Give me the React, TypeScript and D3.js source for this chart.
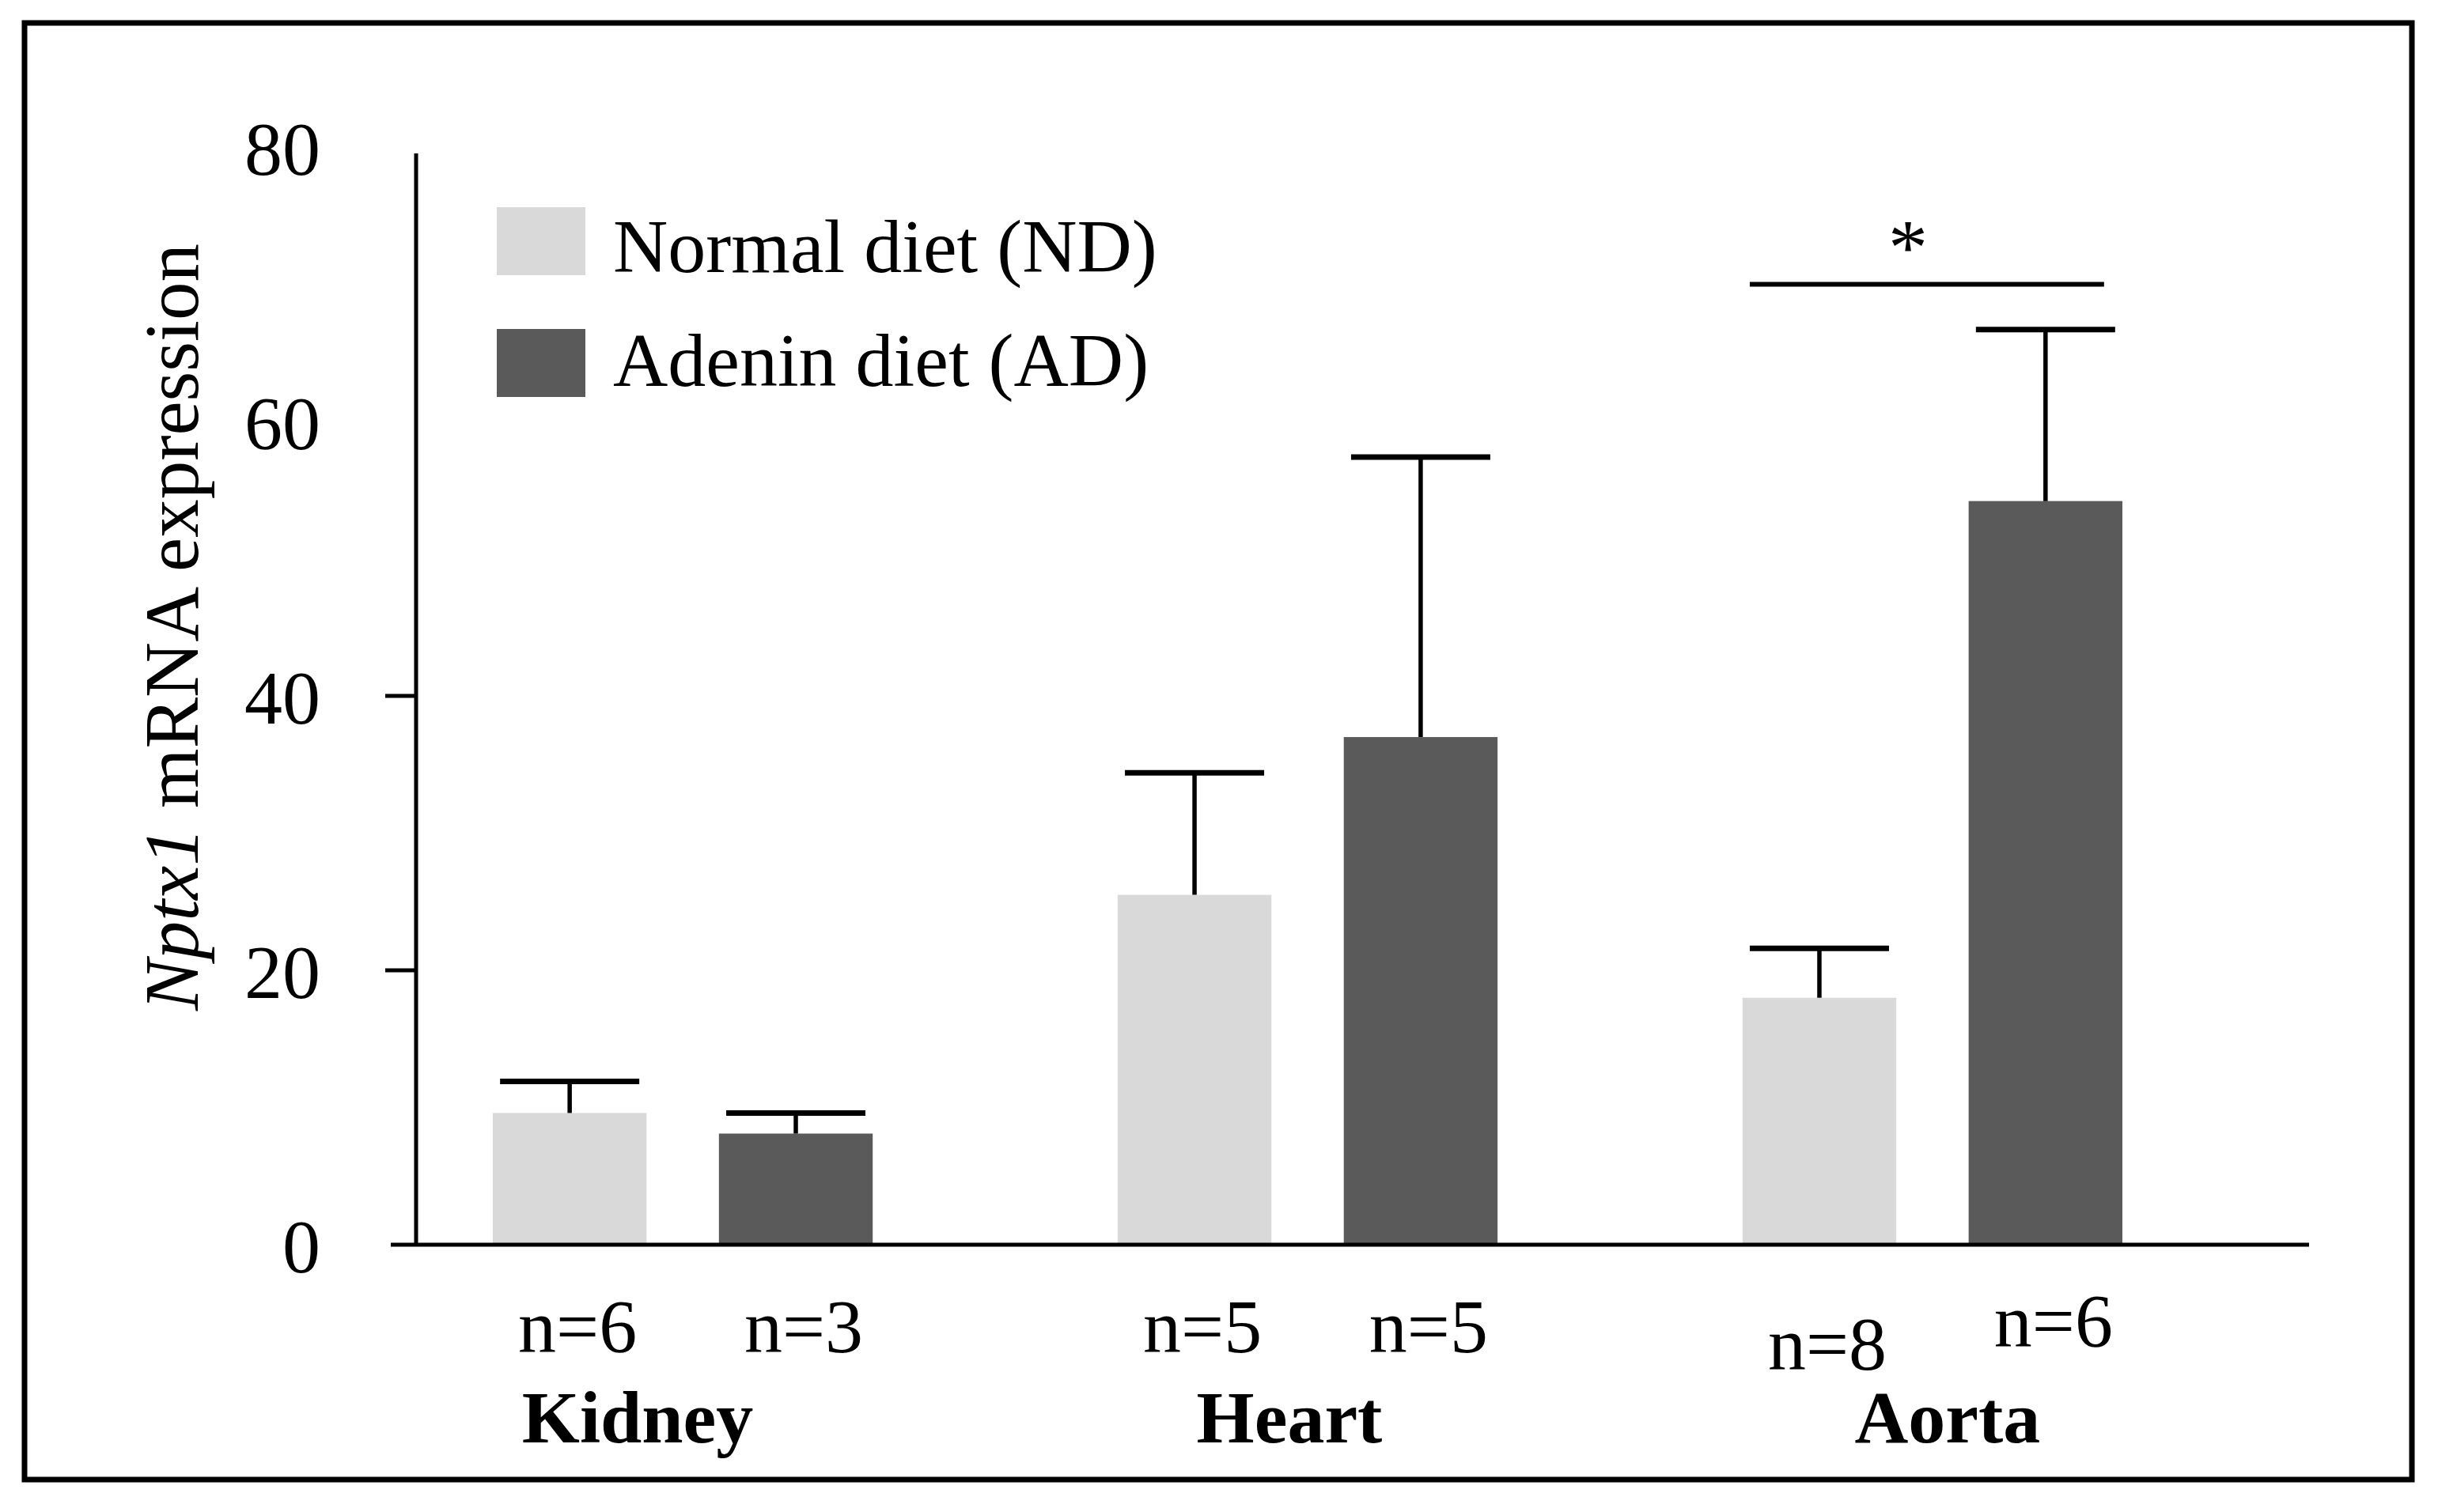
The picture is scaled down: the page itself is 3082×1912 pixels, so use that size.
import React, { useRef, useEffect } from 'react';
import * as d3 from 'd3';

// data
const categories = ['Kidney', 'Heart', 'Aorta'];
const seriesKeys = ['ND', 'AD'];
const legendLabels = ['Normal diet (ND)', 'Adenin diet (AD)'];
const ndMeans = [9.6, 25.5, 18.0];
const ndErrors = [2.3, 8.9, 3.6];
const adMeans = [8.1, 37.0, 54.2];
const adErrors = [1.5, 20.4, 12.5];
const ndCounts = ['n=6', 'n=5', 'n=8'];
const adCounts = ['n=3', 'n=5', 'n=6'];
const yTicks = [0, 20, 40, 60, 80];
const yTickMarks = [20, 40];
const significance = { category: 'Aorta', value: 70, label: '*' };

const W = 3082;
const H = 1912;
const FONT = '"Liberation Serif", "Times New Roman", Times, serif';
const COLORS: Record<string, string> = { ND: '#d9d9d9', AD: '#5a5a5a' };

const App: React.FC = () => {
  const svgRef = useRef<SVGSVGElement>(null);

  useEffect(() => {
    document.body.style.margin = '0';
    const svg = d3.select(svgRef.current);
    svg.selectAll('*').remove();

    svg.append('rect').attr('width', W).attr('height', H).attr('fill', '#fff');

    // frame
    svg.append('rect')
      .attr('x', 31).attr('y', 29)
      .attr('width', 3018).attr('height', 1842)
      .attr('fill', 'none').attr('stroke', '#000').attr('stroke-width', 7);

    const y = d3.scaleLinear().domain([0, 80]).range([1574, 186]);
    const xGroup = d3.scaleBand<string>()
      .domain(categories)
      .range([228, 3078])
      .paddingInner(0.392)
      .paddingOuter(0.5);
    const xSub = d3.scaleBand<string>()
      .domain(seriesKeys)
      .range([0, xGroup.bandwidth()])
      .paddingInner(0.32)
      .paddingOuter(0);

    const rows = categories.flatMap((c, i) => [
      { cat: c, key: 'ND', mean: ndMeans[i], err: ndErrors[i], n: ndCounts[i] },
      { cat: c, key: 'AD', mean: adMeans[i], err: adErrors[i], n: adCounts[i] },
    ]);
    const barX = (d: { cat: string; key: string }) => (xGroup(d.cat) ?? 0) + (xSub(d.key) ?? 0);
    const barC = (d: { cat: string; key: string }) => barX(d) + xSub.bandwidth() / 2;

    // bars
    svg.append('g').selectAll('rect')
      .data(rows)
      .enter()
      .append('rect')
      .attr('x', d => barX(d))
      .attr('y', d => y(d.mean))
      .attr('width', xSub.bandwidth())
      .attr('height', d => y(0) - y(d.mean))
      .attr('fill', d => COLORS[d.key]);

    // error bars (upper only)
    const eb = svg.append('g').attr('stroke', '#000');
    eb.selectAll('line.stem')
      .data(rows)
      .enter()
      .append('line')
      .attr('class', 'stem')
      .attr('x1', d => barC(d)).attr('x2', d => barC(d))
      .attr('y1', d => y(d.mean)).attr('y2', d => y(d.mean + d.err))
      .attr('stroke-width', 5.5);
    eb.selectAll('line.cap')
      .data(rows)
      .enter()
      .append('line')
      .attr('class', 'cap')
      .attr('x1', d => barC(d) - 88).attr('x2', d => barC(d) + 88)
      .attr('y1', d => y(d.mean + d.err)).attr('y2', d => y(d.mean + d.err))
      .attr('stroke-width', 7);

    // axes
    svg.append('line')
      .attr('x1', 526).attr('x2', 526)
      .attr('y1', y(80) + 8).attr('y2', y(0))
      .attr('stroke', '#000').attr('stroke-width', 5);
    svg.append('line')
      .attr('x1', 494).attr('x2', 2919)
      .attr('y1', y(0)).attr('y2', y(0))
      .attr('stroke', '#000').attr('stroke-width', 5);
    svg.append('g').selectAll('line')
      .data(yTickMarks)
      .enter()
      .append('line')
      .attr('x1', 487).attr('x2', 526)
      .attr('y1', d => y(d)).attr('y2', d => y(d))
      .attr('stroke', '#000').attr('stroke-width', 5);
    svg.append('g').selectAll('text')
      .data(yTicks)
      .enter()
      .append('text')
      .attr('x', 405)
      .attr('y', d => y(d))
      .attr('dy', '0.36em')
      .attr('text-anchor', 'end')
      .attr('font-family', FONT)
      .attr('font-size', 96)
      .text(d => d);

    // y label
    const yl = svg.append('text')
      .attr('transform', 'translate(250,793) rotate(-90)')
      .attr('text-anchor', 'middle')
      .attr('font-family', FONT)
      .attr('font-size', 97);
    yl.append('tspan').attr('font-style', 'italic').text('Nptx1');
    yl.append('tspan').text(' mRNA expression');

    // n labels
    const nDy: Record<string, number> = { 'Aorta-ND': 22, 'Aorta-AD': -7 };
    svg.append('g').selectAll('text')
      .data(rows)
      .enter()
      .append('text')
      .attr('x', d => barC(d) + 10)
      .attr('y', d => 1710 + (nDy[`${d.cat}-${d.key}`] ?? 0))
      .attr('text-anchor', 'middle')
      .attr('font-family', FONT)
      .attr('font-size', 96)
      .text(d => d.n);

    // category labels
    const catDx: Record<string, number> = { Kidney: -57, Heart: -23, Aorta: 19 };
    svg.append('g').selectAll('text')
      .data(categories)
      .enter()
      .append('text')
      .attr('x', d => (xGroup(d) ?? 0) + xGroup.bandwidth() / 2 + (catDx[d] ?? 0))
      .attr('y', 1824)
      .attr('text-anchor', 'middle')
      .attr('font-family', FONT)
      .attr('font-weight', 'bold')
      .attr('font-size', 94)
      .text(d => d);

    // significance
    const sx0 = barC({ cat: significance.category, key: 'ND' }) - 88;
    const sx1 = barC({ cat: significance.category, key: 'AD' }) + 74;
    svg.append('line')
      .attr('x1', sx0).attr('x2', sx1)
      .attr('y1', y(significance.value)).attr('y2', y(significance.value))
      .attr('stroke', '#000').attr('stroke-width', 6);
    svg.append('text')
      .attr('x', (sx0 + sx1) / 2 - 24)
      .attr('y', y(significance.value) - 14)
      .attr('text-anchor', 'middle')
      .attr('font-family', FONT)
      .attr('font-size', 100)
      .text(significance.label);

    // legend
    const lg = svg.append('g');
    seriesKeys.forEach((k, i) => {
      lg.append('rect')
        .attr('x', 628).attr('y', 262 + i * 154)
        .attr('width', 112).attr('height', 86)
        .attr('fill', COLORS[k]);
      lg.append('text')
        .attr('x', 775).attr('y', 344 + i * 144)
        .attr('font-family', FONT)
        .attr('font-size', 96)
        .text(legendLabels[i]);
    });
  }, []);

  return <svg ref={svgRef} width={W} height={H} style={{ display: 'block' }} />;
};

export default App;
